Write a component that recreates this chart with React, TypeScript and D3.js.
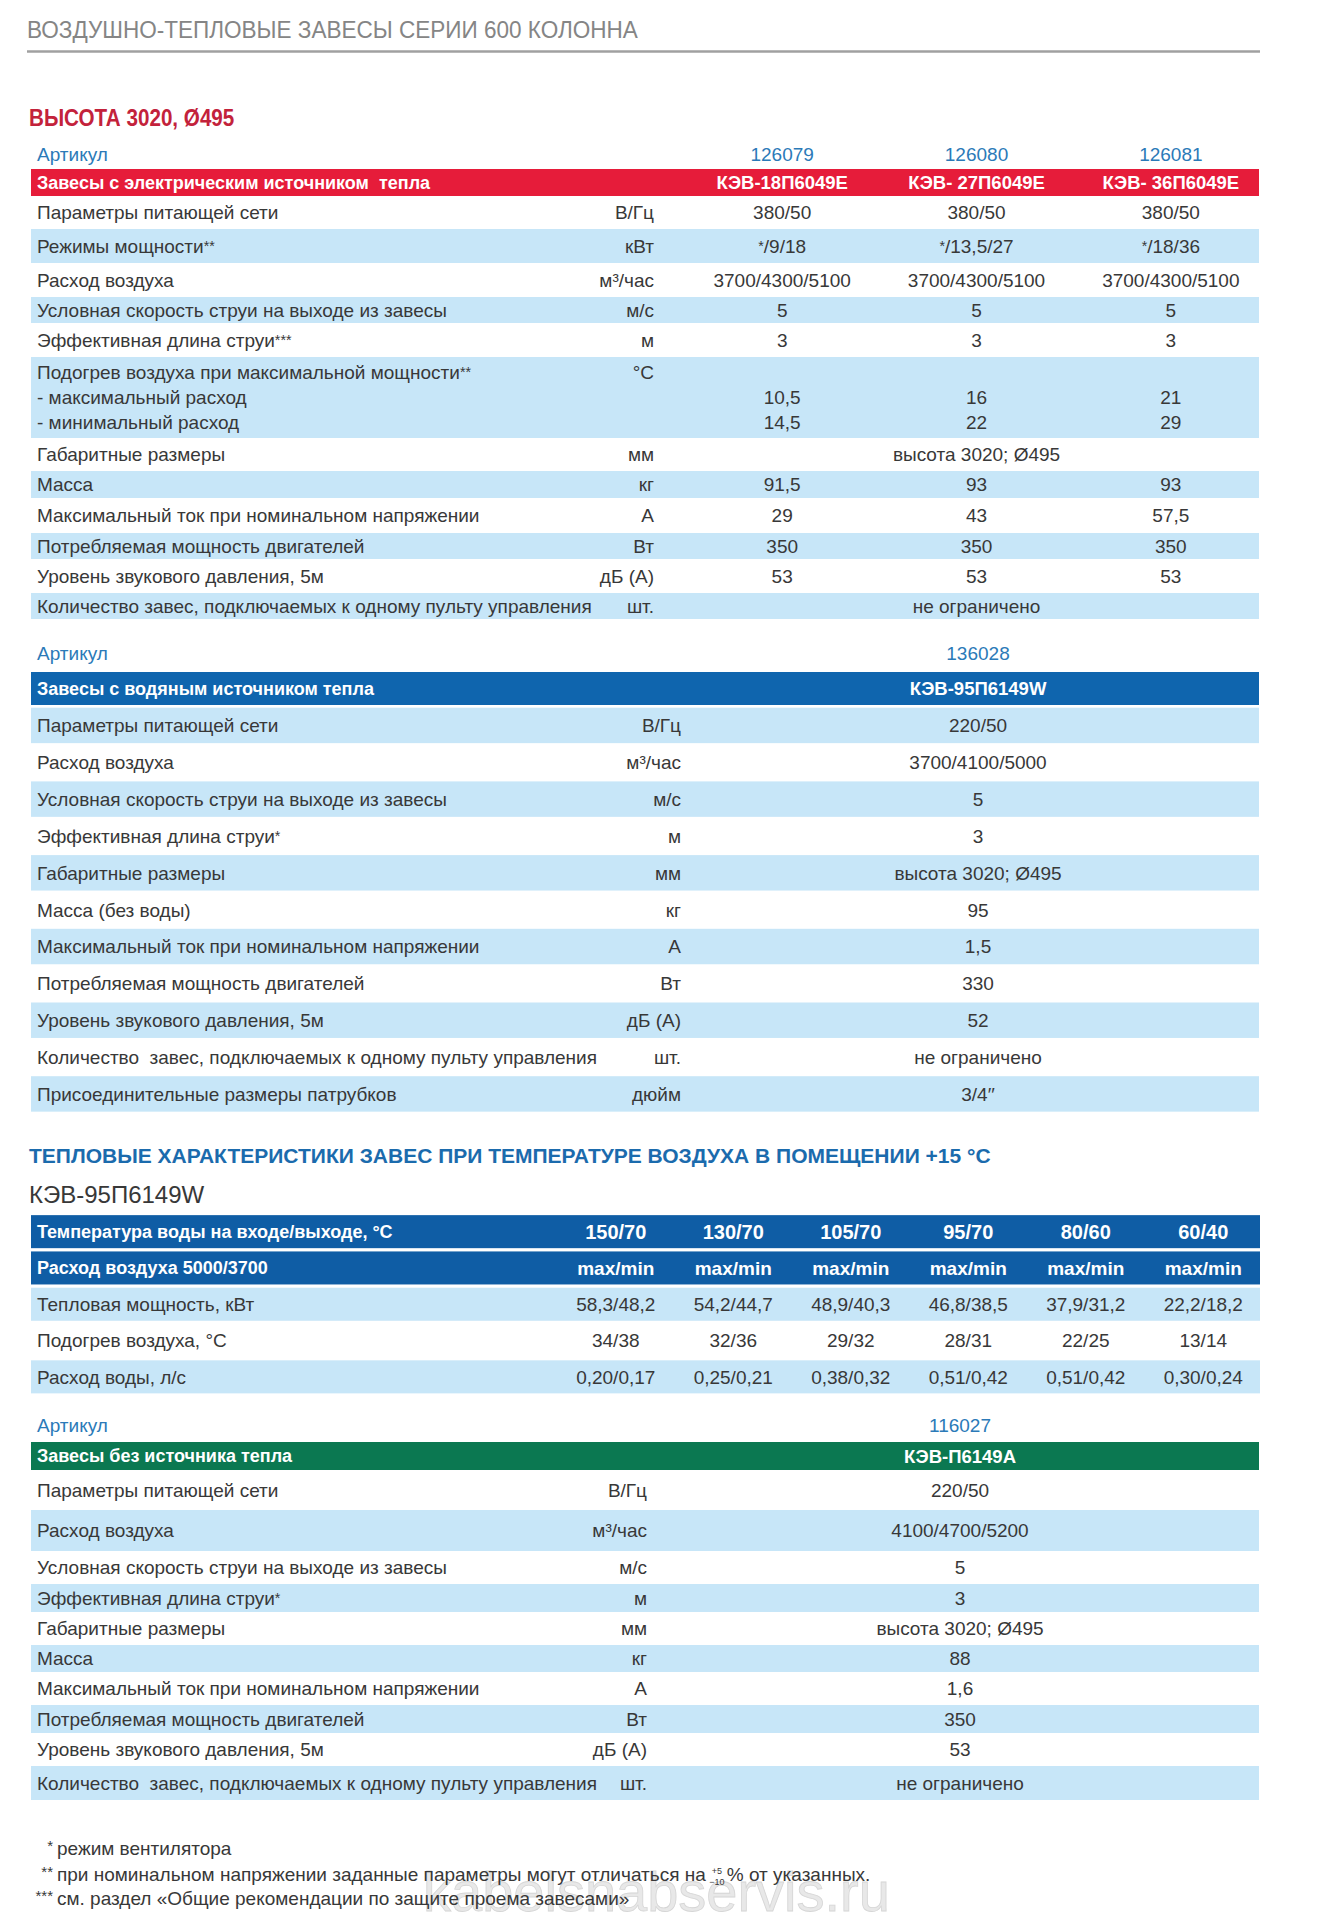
import React, { useLayoutEffect, useRef, useState } from 'react';
import * as d3 from 'd3';

// ================= DATA =================
const pageTitle = 'ВОЗДУШНО-ТЕПЛОВЫЕ ЗАВЕСЫ СЕРИИ 600 КОЛОННА';
const heightHeading = 'ВЫСОТА 3020, Ø495';
const articleLabel = 'Артикул';

// Electric heating
const elecArticles = ['126079', '126080', '126081'];
const elecTitle = 'Завесы с электрическим источником  тепла';
const elecModels = ['КЭВ-18П6049Е', 'КЭВ- 27П6049Е', 'КЭВ- 36П6049Е'];
const elecParams = [
  'Параметры питающей сети',
  'Режимы мощности**',
  'Расход воздуха',
  'Условная скорость струи на выходе из завесы',
  'Эффективная длина струи***',
  'Подогрев воздуха при максимальной мощности**\n- максимальный расход\n- минимальный расход',
  'Габаритные размеры',
  'Масса',
  'Максимальный ток при номинальном напряжении',
  'Потребляемая мощность двигателей',
  'Уровень звукового давления, 5м',
  'Количество завес, подключаемых к одному пульту управления',
];
const elecUnits = ['В/Гц', 'кВт', 'м³/час', 'м/с', 'м', '°C', 'мм', 'кг', 'А', 'Вт', 'дБ (А)', 'шт.'];
const elecValues = [
  ['380/50', '380/50', '380/50'],
  ['*/9/18', '*/13,5/27', '*/18/36'],
  ['3700/4300/5100', '3700/4300/5100', '3700/4300/5100'],
  ['5', '5', '5'],
  ['3', '3', '3'],
  ['\n10,5\n14,5', '\n16\n22', '\n21\n29'],
  ['высота 3020; Ø495'],
  ['91,5', '93', '93'],
  ['29', '43', '57,5'],
  ['350', '350', '350'],
  ['53', '53', '53'],
  ['не ограничено'],
];

// Water heating
const waterArticles = ['136028'];
const waterTitle = 'Завесы с водяным источником тепла';
const waterModels = ['КЭВ-95П6149W'];
const waterParams = [
  'Параметры питающей сети',
  'Расход воздуха',
  'Условная скорость струи на выходе из завесы',
  'Эффективная длина струи*',
  'Габаритные размеры',
  'Масса (без воды)',
  'Максимальный ток при номинальном напряжении',
  'Потребляемая мощность двигателей',
  'Уровень звукового давления, 5м',
  'Количество  завес, подключаемых к одному пульту управления',
  'Присоединительные размеры патрубков',
];
const waterUnits = ['В/Гц', 'м³/час', 'м/с', 'м', 'мм', 'кг', 'А', 'Вт', 'дБ (А)', 'шт.', 'дюйм'];
const waterValues = ['220/50', '3700/4100/5000', '5', '3', 'высота 3020; Ø495', '95', '1,5', '330', '52', 'не ограничено', '3/4′′'];

// Thermal characteristics
const thermalTitle = 'ТЕПЛОВЫЕ ХАРАКТЕРИСТИКИ ЗАВЕС ПРИ ТЕМПЕРАТУРЕ ВОЗДУХА В ПОМЕЩЕНИИ +15 °C';
const thermalModel = 'КЭВ-95П6149W';
const waterTempLabel = 'Температура воды на входе/выходе, °C';
const waterTemps = ['150/70', '130/70', '105/70', '95/70', '80/60', '60/40'];
const airflowLabel = 'Расход воздуха 5000/3700';
const airflowModes = ['max/min', 'max/min', 'max/min', 'max/min', 'max/min', 'max/min'];
const heatPowerLabel = 'Тепловая мощность, кВт';
const heatPower = ['58,3/48,2', '54,2/44,7', '48,9/40,3', '46,8/38,5', '37,9/31,2', '22,2/18,2'];
const airHeatLabel = 'Подогрев воздуха, °C';
const airHeat = ['34/38', '32/36', '29/32', '28/31', '22/25', '13/14'];
const waterFlowLabel = 'Расход воды, л/с';
const waterFlow = ['0,20/0,17', '0,25/0,21', '0,38/0,32', '0,51/0,42', '0,51/0,42', '0,30/0,24'];

// No heating
const ambientArticles = ['116027'];
const ambientTitle = 'Завесы без источника тепла';
const ambientModels = ['КЭВ-П6149А'];
const ambientParams = [
  'Параметры питающей сети',
  'Расход воздуха',
  'Условная скорость струи на выходе из завесы',
  'Эффективная длина струи*',
  'Габаритные размеры',
  'Масса',
  'Максимальный ток при номинальном напряжении',
  'Потребляемая мощность двигателей',
  'Уровень звукового давления, 5м',
  'Количество  завес, подключаемых к одному пульту управления',
];
const ambientUnits = ['В/Гц', 'м³/час', 'м/с', 'м', 'мм', 'кг', 'А', 'Вт', 'дБ (А)', 'шт.'];
const ambientValues = ['220/50', '4100/4700/5200', '5', '3', 'высота 3020; Ø495', '88', '1,6', '350', '53', 'не ограничено'];

// Footnotes
const footnoteMarks = ['*', '**', '***'];
const footnoteTexts = [
  'режим вентилятора',
  'при номинальном напряжении заданные параметры могут отличаться на',
  'см. раздел «Общие рекомендации по защите проема завесами»',
];
const tolerance = ['+5', '−10'];
const toleranceTail = '% от указанных.';
const watermark = 'kabelsnabservis.ru';

// ================= LAYOUT / STYLE =================
const W = 1323;
const H = 1925;
const BODY = "'Liberation Sans', Arial, sans-serif";
const C = {
  text: '#383838',
  grey: '#858585',
  rule: '#a0a0a0',
  red: '#e61c3a',
  redTitle: '#c3223b',
  article: '#2b7ab8',
  stripe: '#c7e6f8',
  waterBar: '#0f65ae',
  thermalTitle: '#1b6bad',
  thermalHead: '#0f5da5',
  green: '#0b7851',
  white: '#ffffff',
};
const L = { left: 31, right: 1259, labelX: 37, size: 19, lineH: 25 };

type TP = {
  x: number; y: number; text: string; size?: number; weight?: number | string;
  fill?: string; anchor?: 'start' | 'middle' | 'end'; lineH?: number; sx?: number;
};

function Txt({ x, y, text, size = L.size, weight = 400, fill = C.text, anchor = 'start', lineH = L.lineH, sx = 1 }: TP) {
  const lines = text.split('\n');
  const y0 = y - ((lines.length - 1) * lineH) / 2 + size * 0.36;
  const raise = size * 0.12;
  return (
    <text
      transform={`translate(${x},0) scale(${sx},1)`}
      fontFamily={BODY}
      fontSize={size}
      fontWeight={weight}
      fill={fill}
      textAnchor={anchor}
      style={{ whiteSpace: 'pre' }}
    >
      {lines.map((ln, i) => {
        const segs = ln.split(/(\*+)/).filter((s) => s.length);
        let shifted = false;
        return (
          <tspan key={i} x={0} y={y0 + i * lineH}>
            {segs.map((s, j) => {
              const star = /^\*+$/.test(s);
              let dy = 0;
              if (star && !shifted) { dy = -raise; shifted = true; }
              else if (!star && shifted) { dy = raise; shifted = false; }
              return (
                <tspan key={j} dy={dy || undefined} fontSize={star ? size * 0.75 : undefined}>{s}</tspan>
              );
            })}
          </tspan>
        );
      })}
    </text>
  );
}

type SpecProps = {
  top: number; heights: number[]; params: string[]; units: string[]; values: string[][];
  x: d3.ScaleBand<string>; unitX: number; striped: (i: number) => boolean; inset?: number;
};

function SpecTable({ top, heights, params, units, values, x, unitX, striped, inset = 0 }: SpecProps) {
  const ends = Array.from(d3.cumsum(heights));
  const models = x.domain();
  const mid = models[Math.floor(models.length / 2)];
  const cx = (m: string) => (x(m) as number) + x.bandwidth() / 2;
  return (
    <g>
      {params.map((p, i) => {
        const h = heights[i];
        const y = top + ends[i] - h;
        const cy = y + h / 2;
        const n = p.split('\n').length;
        const unit = units[i] + '\n'.repeat(n - 1);
        const vals = values[i];
        return (
          <g key={i}>
            {striped(i) && (
              <rect x={L.left} y={y + inset} width={L.right - L.left} height={h - inset * 2} fill={C.stripe} />
            )}
            <Txt x={L.labelX} y={cy} text={p} />
            <Txt x={unitX} y={cy} text={unit} anchor="end" />
            {vals.length === models.length
              ? vals.map((v, k) => <Txt key={k} x={cx(models[k])} y={cy} text={v} anchor="middle" />)
              : <Txt x={cx(mid)} y={cy} text={vals[0]} anchor="middle" />}
          </g>
        );
      })}
    </g>
  );
}

function Bar({ y, h, fill, title, models, x }: { y: number; h: number; fill: string; title: string; models: string[]; x: d3.ScaleBand<string> }) {
  const cy = y + h / 2;
  return (
    <g>
      <rect x={L.left} y={y} width={L.right - L.left} height={h} fill={fill} />
      <Txt x={L.labelX} y={cy} text={title} weight={700} fill={C.white} size={18} />
      {models.map((m) => (
        <Txt key={m} x={(x(m) as number) + x.bandwidth() / 2} y={cy} text={m} weight={700} fill={C.white} size={18.5} anchor="middle" />
      ))}
    </g>
  );
}

function Articles({ y, articles, x }: { y: number; articles: string[]; x: d3.ScaleBand<string> }) {
  const models = x.domain();
  return (
    <g>
      <Txt x={L.labelX} y={y} text={articleLabel} fill={C.article} />
      {articles.map((a, i) => (
        <Txt key={a} x={(x(models[i]) as number) + x.bandwidth() / 2} y={y} text={a} fill={C.article} anchor="middle" />
      ))}
    </g>
  );
}

export default function App() {
  // column scales
  const xElec = d3.scaleBand<string>().domain(elecModels).range([685, 1268]);
  const xWater = d3.scaleBand<string>().domain(waterModels).range([696, 1260]);
  const xThermal = d3.scaleBand<string>().domain(waterTemps).range([557, 1262]);
  const xAmbient = d3.scaleBand<string>().domain(ambientModels).range([660, 1260]);

  const elecHeights = [33, 34, 34, 26, 34, 81, 33, 27, 35, 26, 34, 26];
  const waterHeights = waterParams.map(() => 36.85);
  const ambientHeights = [40, 41, 33, 28, 33, 27, 33, 28, 33, 34];

  const thermalRows = [
    { label: waterTempLabel, vals: waterTemps, head: true },
    { label: airflowLabel, vals: airflowModes, head: true },
    { label: heatPowerLabel, vals: heatPower, head: false },
    { label: airHeatLabel, vals: airHeat, head: false },
    { label: waterFlowLabel, vals: waterFlow, head: false },
  ];
  const yThermal = d3.scaleBand<number>()
    .domain(d3.range(thermalRows.length))
    .range([1213.5, 1395])
    .paddingInner(0.09)
    .paddingOuter(0.045);

  const footY = [1848, 1874, 1898];
  const footSize = 19;
  const footX = 57;

  // measure footnote 2 so the stacked tolerance follows it
  const fn2Ref = useRef<SVGTextElement | null>(null);
  const [fn2End, setFn2End] = useState(footX + 650);
  useLayoutEffect(() => {
    if (fn2Ref.current) {
      const w = fn2Ref.current.getComputedTextLength();
      if (w > 0) setFn2End(footX + w);
    }
  }, []);
  const tolX = fn2End + 11;

  return (
    <svg
      width={W}
      height={H}
      viewBox={`0 0 ${W} ${H}`}
      style={{ position: 'absolute', left: 0, top: 0, background: '#fff' }}
    >
      <rect x={0} y={0} width={W} height={H} fill="#fff" />

      {/* Page title */}
      <Txt x={27} y={30} text={pageTitle} size={23} fill={C.grey} sx={0.98} />
      <line x1={27} x2={1260} y1={51.5} y2={51.5} stroke={C.rule} strokeWidth={2.5} />

      <Txt x={29} y={117} text={heightHeading} size={24} weight={700} fill={C.redTitle} sx={0.86} />

      {/* Electric section */}
      <Articles y={154} articles={elecArticles} x={xElec} />
      <Bar y={169} h={27} fill={C.red} title={elecTitle} models={elecModels} x={xElec} />
      <SpecTable
        top={196}
        heights={elecHeights}
        params={elecParams}
        units={elecUnits}
        values={elecValues}
        x={xElec}
        unitX={654}
        striped={(i) => i % 2 === 1}
      />

      {/* Water section */}
      <Articles y={653} articles={waterArticles} x={xWater} />
      <Bar y={672} h={33} fill={C.waterBar} title={waterTitle} models={waterModels} x={xWater} />
      <SpecTable
        top={707}
        heights={waterHeights}
        params={waterParams}
        units={waterUnits}
        values={waterValues.map((v) => [v])}
        x={xWater}
        unitX={681}
        striped={(i) => i % 2 === 0}
        inset={0.7}
      />

      {/* Thermal characteristics */}
      <Txt x={29} y={1155.5} text={thermalTitle} size={21} weight={700} fill={C.thermalTitle} sx={1.0} />
      <Txt x={29} y={1194.5} text={thermalModel} size={24} fill={C.text} />
      {thermalRows.map((r, i) => {
        const y = yThermal(i) as number;
        const h = yThermal.bandwidth();
        const cy = y + h / 2;
        const fill = r.head ? C.thermalHead : i % 2 === 0 ? C.stripe : null;
        const tc = r.head ? C.white : C.text;
        const wt = r.head ? 700 : 400;
        return (
          <g key={i}>
            {fill && <rect x={L.left} y={y} width={L.right - L.left + 1} height={h} fill={fill} />}
            <Txt x={L.labelX} y={cy} text={r.label} fill={tc} weight={wt} size={r.head ? 18 : 19} />
            {r.vals.map((v, k) => (
              <Txt
                key={k}
                x={(xThermal(waterTemps[k]) as number) + xThermal.bandwidth() / 2}
                y={cy}
                text={v}
                fill={tc}
                weight={wt}
                size={i === 0 ? 20 : 19}
                anchor="middle"
              />
            ))}
          </g>
        );
      })}

      {/* No heating section */}
      <Articles y={1425.5} articles={ambientArticles} x={xAmbient} />
      <Bar y={1442} h={28} fill={C.green} title={ambientTitle} models={ambientModels} x={xAmbient} />
      <SpecTable
        top={1470}
        heights={ambientHeights}
        params={ambientParams}
        units={ambientUnits}
        values={ambientValues.map((v) => [v])}
        x={xAmbient}
        unitX={647}
        striped={(i) => i % 2 === 1}
      />

      {/* Watermark */}
      <text
        x={423}
        y={1911}
        fontFamily={BODY}
        fontSize={56}
        fill="#e4e4e4"
        stroke="#cfcfcf"
        strokeWidth={0.8}
        opacity={0.85}
      >
        {watermark}
      </text>

      {/* Footnotes */}
      {footnoteMarks.map((m, i) => (
        <text
          key={m}
          x={53}
          y={footY[i] + 3}
          textAnchor="end"
          fontFamily={BODY}
          fontSize={15}
          fill={C.text}
        >
          {m}
        </text>
      ))}
      {footnoteTexts.map((t, i) => (
        <text
          key={i}
          ref={i === 1 ? fn2Ref : undefined}
          x={footX}
          y={footY[i] + footSize * 0.36}
          fontFamily={BODY}
          fontSize={footSize}
          fill={C.text}
          style={{ whiteSpace: 'pre' }}
        >
          {t}
        </text>
      ))}
      {/* tolerance stacked after footnote 2 */}
      <g transform={`translate(${tolX},${footY[1] + footSize * 0.36})`}>
        <text x={0} y={-7} fontFamily={BODY} fontSize={9} fill={C.text} textAnchor="middle">{tolerance[0]}</text>
        <text x={0} y={4} fontFamily={BODY} fontSize={9} fill={C.text} textAnchor="middle">{tolerance[1]}</text>
        <text x={10} y={0} fontFamily={BODY} fontSize={footSize} fill={C.text}>{toleranceTail}</text>
      </g>
    </svg>
  );
}
